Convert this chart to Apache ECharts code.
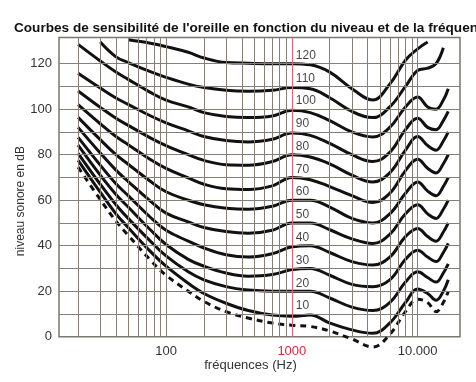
<!DOCTYPE html>
<html><head><meta charset="utf-8">
<script src="https://cdn.jsdelivr.net/npm/echarts@6/dist/echarts.min.js"></script>
<style>html,body{margin:0;padding:0;background:#fff}#c{width:476px;height:382px}</style>
</head><body><div id="c"></div>
<script>
// Frequencies (Hz) at which the curves are sampled
var freqs = [20, 30, 40, 50, 75, 100, 150, 200, 300, 450, 700, 1000, 1400, 2000, 3000, 4400, 6000, 8000, 10000, 12000, 14000, 16000, 17500];
// Levels in dB for each loudness curve (phon); null = curve not drawn there
var threshold = [74.5, 60.3, 50.8, 44.6, 33.7, 27, 20, 15.5, 11, 8.2, 6, 5, 4.5, 2.5, -1, -4.5, 1, 11, 16.5, 15, 11, 15, 20];
var phon10  = [77.5, 63.5, 54, 48, 37.5, 31, 23.5, 19, 14.7, 11.5, 9.5, 9, 9.5, 6, 3, 1.5, 6, 15, 21, 19, 16, 20, 25];
var phon20  = [80.6, 67, 58, 52, 42, 35.5, 28.5, 25, 22, 20.5, 20, 20, 20, 17, 13, 11.5, 15, 24, 28.5, 26, 24, 28, 32];
var phon30  = [84.2, 71, 62.5, 57, 47, 40.5, 34, 31, 28, 26.6, 27.3, 29.5, 30, 27, 23, 22, 25, 34, 38, 35, 33, 37, 41];
var phon40  = [87.6, 75.4, 67.2, 62, 52.5, 46.8, 42, 39, 36, 35, 36.5, 39.5, 40, 37, 33, 31.5, 35, 44, 47.6, 44, 42, 46, 50];
var phon50  = [92, 80.7, 73.2, 68.2, 59.6, 54.3, 50.5, 48, 46.2, 45.5, 46.8, 50, 50, 47, 43, 41, 45, 54, 58, 54, 52, 56, 60];
var phon60  = [96.4, 86.6, 80, 75.8, 68.3, 63.7, 60, 58, 56.5, 56, 57.3, 60, 60, 57, 52, 50, 54, 63, 68, 64, 62, 66, 70];
var phon70  = [102, 93.6, 88, 84.4, 77.9, 74, 69.8, 67, 65, 64.7, 66.3, 70, 69, 66, 62, 59, 63, 73, 78, 74, 72, 76, 80];
var phon80  = [108, 100.8, 96, 92.9, 87.4, 84, 80, 77.5, 75.6, 75.4, 77, 80, 79, 76, 71, 68, 72, 82, 88, 84, 82, 86, 90];
var phon90  = [115.8, 109.3, 104.9, 102.1, 97.1, 94, 90.5, 88, 86.2, 85.6, 86.8, 89.5, 88.5, 85, 80, 77, 81, 91, 96, 92, 91, 95, 99];
var phon100 = [128.5, 121.2, 116.3, 113.1, 107.4, 104, 101, 98.5, 96.8, 96.3, 97, 99.5, 98.5, 95, 90, 87.8, 92, 101, 105.3, 101, 100, 104, 109];
var phon110 = [null, 129.5, 123, 120.5, 116.5, 114, 111, 109.5, 108.3, 107.9, 108.3, 109.5, 109, 105, 99, 96.3, 101, 110, 117, 118, 120, 127, null];
var phon120 = [null, null, null, 130.5, 129, 127.5, 125, 122.5, 120.5, 120.2, 120, 120, 119.5, 116.3, 109, 104, 111, 121.5, 126.5, 129.5, null, null, null];
var curveLevels = [10, 20, 30, 40, 50, 60, 70, 80, 90, 100, 110, 120];
var curveValues = [phon10, phon20, phon30, phon40, phon50, phon60, phon70, phon80, phon90, phon100, phon110, phon120];
// Grid lines
var xGridLines = [20, 30, 40, 50, 60, 70, 80, 90, 100, 200, 300, 400, 500, 600, 700, 800, 900, 2000, 3000, 4000, 5000, 6000, 7000, 8000, 9000, 10000];
var yGridLines = [10, 20, 30, 40, 50, 60, 70, 80, 90, 100, 110, 120];
var xTickLabels = {100: '100', 1000: '1000', 10000: '10.000'};

function pairs(vals) {
  var out = [];
  for (var i = 0; i < freqs.length; i++) { if (vals[i] !== null) out.push([freqs[i], vals[i]]); }
  return out;
}

var FONT = 'Liberation Sans, Arial, Helvetica, sans-serif';
var series = [];
series.push({
  type: 'line', data: [], z: 1, silent: true,
  markLine: {
    silent: true, symbol: 'none', animation: false, label: {show: false},
    lineStyle: {color: '#877f74', width: 1, type: 'solid'},
    data: xGridLines.map(function (v) { return {xAxis: v}; })
      .concat(yGridLines.map(function (v) { return {yAxis: v}; }))
      .concat([{xAxis: 1000, lineStyle: {color: '#e2627a', width: 1, type: 'solid'}}])
  }
});
series.push({
  type: 'line', data: pairs(threshold), smooth: 0.4, symbol: 'none', clip: false, z: 3,
  lineStyle: {color: '#111', width: 3, type: [6, 5]}
});
curveValues.forEach(function (vals, i) {
  series.push({
    type: 'line', data: pairs(vals), smooth: 0.4, symbol: 'none', clip: false, z: 3,
    lineStyle: {color: '#111', width: 3}
  });
});
series.push({
  type: 'scatter', symbolSize: 0, z: 4, silent: true,
  data: curveLevels.map(function (l) { return [1000, l]; }),
  label: {
    show: true, position: 'right', distance: 4, offset: [0, -8],
    formatter: function (p) { return String(p.value[1]); },
    color: '#111', fontSize: 12, fontFamily: FONT
  }
});

var chart = echarts.init(document.getElementById('c'), null, {renderer: 'canvas'});
chart.setOption({
  animation: false,
  backgroundColor: '#fff',
  title: {
    text: "Courbes de sensibilité de l'oreille en fonction du niveau et de la fréquence",
    left: 9, top: 16,
    textStyle: {fontSize: 13.6, fontWeight: 'bold', color: '#111', fontFamily: FONT}
  },
  grid: {left: 59, right: 16, top: 37.5, bottom: 45.3, show: true, borderColor: '#7a756e', borderWidth: 1.5, backgroundColor: 'transparent'},
  xAxis: {
    type: 'log', logBase: 10, min: 14.1, max: 21700,
    name: 'fréquences (Hz)', nameLocation: 'middle', nameGap: 22, nameMoveOverlap: false,
    nameTextStyle: {fontSize: 13, color: '#333', fontFamily: FONT, padding: [0, 18, 0, 0]},
    axisLine: {show: false}, axisTick: {show: false}, splitLine: {show: false},
    axisLabel: {
      show: true, margin: 8, fontSize: 13, fontFamily: FONT, color: '#333',
      showMinLabel: false, showMaxLabel: false,
      formatter: function (v) {
        var k = Math.round(v);
        if (k === 1000) return '{r|1000}';
        return xTickLabels[k] || '';
      },
      rich: {r: {color: '#d8283f', fontSize: 13, fontFamily: FONT}}
    }
  },
  yAxis: {
    type: 'value', min: 0, max: 131.5, interval: 20,
    name: 'niveau sonore en dB', nameLocation: 'middle', nameGap: 32, nameMoveOverlap: false,
    nameTextStyle: {fontSize: 12, color: '#333', fontFamily: FONT, padding: [0, 28, 0, 0]},
    axisLine: {show: false}, axisTick: {show: false}, splitLine: {show: false},
    axisLabel: {margin: 7, fontSize: 13, fontFamily: FONT, color: '#333', showMaxLabel: false}
  },
  series: series
});
</script></body></html>
